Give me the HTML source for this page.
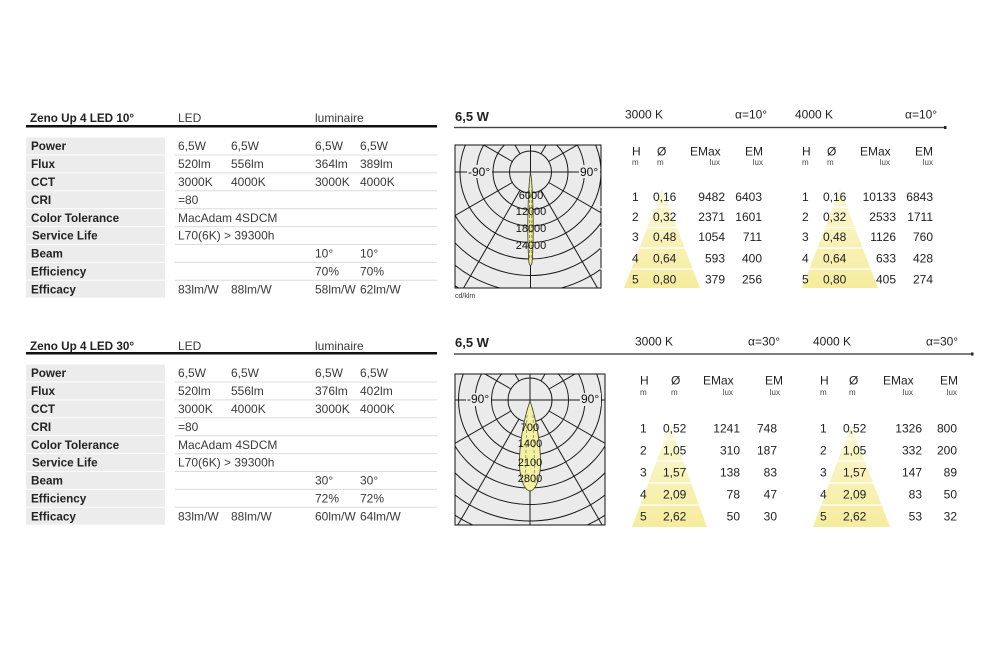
<!DOCTYPE html>
<html><head><meta charset="utf-8">
<style>
html,body{margin:0;padding:0;background:#fff;}
svg{display:block;}
text{font-family:"Liberation Sans",Arial,sans-serif;}
.lb{font-weight:bold;font-size:11.7px;fill:#222;}
.v{font-size:12px;fill:#3a3a3a;}
.r{font-size:12px;fill:#222;}
.s{font-size:8px;fill:#444;}
.pl{font-size:11px;fill:#111;}
</style></head><body>
<svg width="999" height="665" viewBox="0 0 999 665" xmlns="http://www.w3.org/2000/svg">
<defs>
<linearGradient id="yg" x1="0" y1="0" x2="0" y2="1">
<stop offset="0" stop-color="#fbf8d6"/><stop offset="1" stop-color="#f5ec9e"/>
</linearGradient>
<clipPath id="c1"><rect x="455" y="145" width="146" height="143"/></clipPath>
<clipPath id="c2"><rect x="455" y="374" width="150" height="151"/></clipPath>
</defs>
<rect width="999" height="665" fill="#fff"/>

<!-- ============ LEFT TABLE TOP ============ -->
<text x="30" y="122" class="lb">Zeno Up 4 LED 10°</text>
<text x="178" y="122" class="v">LED</text>
<text x="315" y="122" class="v">luminaire</text>
<rect x="26" y="125" width="411" height="2.5" fill="#111"/>
<g>
<rect x="26" y="137.5" width="139" height="17" fill="#ececec"/>
<rect x="26" y="155.4" width="139" height="17" fill="#ececec"/>
<rect x="26" y="173.3" width="139" height="17" fill="#ececec"/>
<rect x="26" y="191.2" width="139" height="17" fill="#ececec"/>
<rect x="26" y="209.1" width="139" height="17" fill="#ececec"/>
<rect x="26" y="227.0" width="139" height="17" fill="#ececec"/>
<rect x="26" y="244.9" width="139" height="17" fill="#ececec"/>
<rect x="26" y="262.8" width="139" height="17" fill="#ececec"/>
<rect x="26" y="280.7" width="139" height="17" fill="#ececec"/>
</g>
<g stroke="#dcdcdc" stroke-width="1">
<line x1="175" y1="155" x2="437" y2="155"/>
<line x1="175" y1="172.9" x2="437" y2="172.9"/>
<line x1="175" y1="190.8" x2="437" y2="190.8"/>
<line x1="175" y1="208.7" x2="437" y2="208.7"/>
<line x1="175" y1="226.6" x2="437" y2="226.6"/>
<line x1="175" y1="244.5" x2="437" y2="244.5"/>
<line x1="175" y1="262.4" x2="437" y2="262.4"/>
<line x1="175" y1="280.3" x2="437" y2="280.3"/>
</g>
<text x="31" y="150.2" class="lb">Power</text>
<text x="31" y="168.1" class="lb">Flux</text>
<text x="31" y="186.0" class="lb">CCT</text>
<text x="31" y="203.9" class="lb">CRI</text>
<text x="31" y="221.8" class="lb">Color Tolerance</text>
<text x="32" y="239.7" class="lb">Service Life</text>
<text x="31" y="257.6" class="lb">Beam</text>
<text x="31" y="275.5" class="lb">Efficiency</text>
<text x="31" y="293.4" class="lb">Efficacy</text>

<text x="178" y="150.2" class="v">6,5W</text><text x="231" y="150.2" class="v">6,5W</text><text x="315" y="150.2" class="v">6,5W</text><text x="360" y="150.2" class="v">6,5W</text>
<text x="178" y="168.1" class="v">520lm</text><text x="231" y="168.1" class="v">556lm</text><text x="315" y="168.1" class="v">364lm</text><text x="360" y="168.1" class="v">389lm</text>
<text x="178" y="186.0" class="v">3000K</text><text x="231" y="186.0" class="v">4000K</text><text x="315" y="186.0" class="v">3000K</text><text x="360" y="186.0" class="v">4000K</text>
<text x="178" y="203.9" class="v">=80</text>
<text x="178" y="221.8" class="v">MacAdam 4SDCM</text>
<text x="178" y="239.7" class="v">L70(6K) &gt; 39300h</text>
<text x="315" y="257.6" class="v">10°</text><text x="360" y="257.6" class="v">10°</text>
<text x="315" y="275.5" class="v">70%</text><text x="360" y="275.5" class="v">70%</text>
<text x="178" y="293.4" class="v">83lm/W</text><text x="231" y="293.4" class="v">88lm/W</text><text x="315" y="293.4" class="v">58lm/W</text><text x="360" y="293.4" class="v">62lm/W</text>

<!-- ============ LEFT TABLE BOTTOM ============ -->
<text x="30" y="350" class="lb">Zeno Up 4 LED 30°</text>
<text x="178" y="350" class="v">LED</text>
<text x="315" y="350" class="v">luminaire</text>
<rect x="26" y="352" width="411" height="2.5" fill="#111"/>
<g>
<rect x="26" y="364.5" width="139" height="17" fill="#ececec"/>
<rect x="26" y="382.4" width="139" height="17" fill="#ececec"/>
<rect x="26" y="400.3" width="139" height="17" fill="#ececec"/>
<rect x="26" y="418.2" width="139" height="17" fill="#ececec"/>
<rect x="26" y="436.1" width="139" height="17" fill="#ececec"/>
<rect x="26" y="454.0" width="139" height="17" fill="#ececec"/>
<rect x="26" y="471.9" width="139" height="17" fill="#ececec"/>
<rect x="26" y="489.8" width="139" height="17" fill="#ececec"/>
<rect x="26" y="507.7" width="139" height="17" fill="#ececec"/>
</g>
<g stroke="#dcdcdc" stroke-width="1">
<line x1="175" y1="382" x2="437" y2="382"/>
<line x1="175" y1="399.9" x2="437" y2="399.9"/>
<line x1="175" y1="417.8" x2="437" y2="417.8"/>
<line x1="175" y1="435.7" x2="437" y2="435.7"/>
<line x1="175" y1="453.6" x2="437" y2="453.6"/>
<line x1="175" y1="471.5" x2="437" y2="471.5"/>
<line x1="175" y1="489.4" x2="437" y2="489.4"/>
<line x1="175" y1="507.3" x2="437" y2="507.3"/>
</g>
<text x="31" y="377.2" class="lb">Power</text>
<text x="31" y="395.1" class="lb">Flux</text>
<text x="31" y="413.0" class="lb">CCT</text>
<text x="31" y="430.9" class="lb">CRI</text>
<text x="31" y="448.8" class="lb">Color Tolerance</text>
<text x="32" y="466.7" class="lb">Service Life</text>
<text x="31" y="484.6" class="lb">Beam</text>
<text x="31" y="502.5" class="lb">Efficiency</text>
<text x="31" y="520.4" class="lb">Efficacy</text>

<text x="178" y="377.2" class="v">6,5W</text><text x="231" y="377.2" class="v">6,5W</text><text x="315" y="377.2" class="v">6,5W</text><text x="360" y="377.2" class="v">6,5W</text>
<text x="178" y="395.1" class="v">520lm</text><text x="231" y="395.1" class="v">556lm</text><text x="315" y="395.1" class="v">376lm</text><text x="360" y="395.1" class="v">402lm</text>
<text x="178" y="413.0" class="v">3000K</text><text x="231" y="413.0" class="v">4000K</text><text x="315" y="413.0" class="v">3000K</text><text x="360" y="413.0" class="v">4000K</text>
<text x="178" y="430.9" class="v">=80</text>
<text x="178" y="448.8" class="v">MacAdam 4SDCM</text>
<text x="178" y="466.7" class="v">L70(6K) &gt; 39300h</text>
<text x="315" y="484.6" class="v">30°</text><text x="360" y="484.6" class="v">30°</text>
<text x="315" y="502.5" class="v">72%</text><text x="360" y="502.5" class="v">72%</text>
<text x="178" y="520.4" class="v">83lm/W</text><text x="231" y="520.4" class="v">88lm/W</text><text x="315" y="520.4" class="v">60lm/W</text><text x="360" y="520.4" class="v">64lm/W</text>

<!-- ============ RIGHT HEADERS ============ -->
<text x="455" y="121" font-size="13" font-weight="bold" fill="#222">6,5 W</text>
<text x="625" y="118.5" class="r">3000 K</text>
<text x="735" y="118.5" class="r">α=10°</text>
<text x="795" y="118.5" class="r">4000 K</text>
<text x="905" y="118.5" class="r">α=10°</text>
<rect x="454" y="126.8" width="491" height="1.4" fill="#444"/>
<rect x="944" y="126" width="2.5" height="3" fill="#222"/>

<text x="455" y="347" font-size="13" font-weight="bold" fill="#222">6,5 W</text>
<text x="635" y="345.5" class="r">3000 K</text>
<text x="748" y="345.5" class="r">α=30°</text>
<text x="813" y="345.5" class="r">4000 K</text>
<text x="926" y="345.5" class="r">α=30°</text>
<rect x="454" y="353.3" width="518" height="1.4" fill="#444"/>
<rect x="971" y="352.5" width="2.5" height="3" fill="#222"/>

<!-- ============ POLAR TOP ============ -->
<rect x="455" y="145" width="146" height="143" fill="#ebebeb"/>
<g clip-path="url(#c1)" stroke="#1a1a1a" stroke-width="1" fill="none">
<circle cx="530.5" cy="172" r="21"/>
<circle cx="530.5" cy="172" r="37.5"/>
<circle cx="530.5" cy="172" r="54"/>
<circle cx="530.5" cy="172" r="70.5"/>
<circle cx="530.5" cy="172" r="87"/>
<circle cx="530.5" cy="172" r="103.5"/>
<circle cx="530.5" cy="172" r="120"/>
<circle cx="530.5" cy="172" r="136.5"/>
<circle cx="530.5" cy="172" r="153"/>
<line x1="530.5" y1="140" x2="530.5" y2="290"/>
<line x1="450" y1="172" x2="605" y2="172"/>
<!-- radial lines, starting at r=21 -->
<line x1="520" y1="190.2" x2="430.5" y2="345.2"/>
<line x1="541" y1="190.2" x2="630.5" y2="345.2"/>
<line x1="512.3" y1="182.5" x2="357.3" y2="272"/>
<line x1="548.7" y1="182.5" x2="703.7" y2="272"/>
<line x1="512.3" y1="161.5" x2="357.3" y2="72"/>
<line x1="548.7" y1="161.5" x2="703.7" y2="72"/>
<line x1="520" y1="153.8" x2="430.5" y2="-1.2"/>
<line x1="541" y1="153.8" x2="630.5" y2="-1.2"/>
</g>
<rect x="455" y="145" width="146" height="143" fill="none" stroke="#111" stroke-width="1"/>
<path d="M530.5,172 C533.5,192 534,240 532,263 Q530.5,268 529,263 C527,240 527.5,192 530.5,172 Z" fill="#f1ee8a" stroke="#3a3a2a" stroke-width="0.8"/>
<line x1="529.3" y1="180" x2="529.3" y2="258" stroke="#555" stroke-width="0.6" stroke-dasharray="3,2"/>
<line x1="531.8" y1="180" x2="531.8" y2="258" stroke="#555" stroke-width="0.6" stroke-dasharray="3,2"/>
<rect x="467" y="165" width="25" height="13" fill="#ebebeb"/>
<rect x="579" y="165" width="21" height="13" fill="#ebebeb"/>
<text x="468" y="176" font-size="12" fill="#111">-90°</text>
<text x="580" y="176" font-size="12" fill="#111">90°</text>
<text x="531" y="199" text-anchor="middle" class="pl">6000</text>
<text x="531" y="215" text-anchor="middle" class="pl">12000</text>
<text x="531" y="232" text-anchor="middle" class="pl">18000</text>
<text x="531" y="249" text-anchor="middle" class="pl">24000</text>
<text x="455" y="298" font-family="Liberation Serif,serif" font-size="7" fill="#333">cd/klm</text>

<!-- ============ POLAR BOTTOM ============ -->
<rect x="455" y="374" width="150" height="151" fill="#ebebeb"/>
<g clip-path="url(#c2)" stroke="#1a1a1a" stroke-width="1" fill="none">
<circle cx="530" cy="400" r="22"/>
<circle cx="530" cy="400" r="38.5"/>
<circle cx="530" cy="400" r="55"/>
<circle cx="530" cy="400" r="71.5"/>
<circle cx="530" cy="400" r="88"/>
<circle cx="530" cy="400" r="104.5"/>
<circle cx="530" cy="400" r="121"/>
<circle cx="530" cy="400" r="137.5"/>
<circle cx="530" cy="400" r="154"/>
<line x1="530" y1="370" x2="530" y2="530"/>
<line x1="450" y1="400" x2="610" y2="400"/>
<line x1="519" y1="419" x2="430" y2="573.2"/>
<line x1="541" y1="419" x2="630" y2="573.2"/>
<line x1="511" y1="411" x2="356.8" y2="500"/>
<line x1="549" y1="411" x2="703.2" y2="500"/>
<line x1="511" y1="389" x2="356.8" y2="300"/>
<line x1="549" y1="389" x2="703.2" y2="300"/>
<line x1="519" y1="381" x2="430" y2="226.8"/>
<line x1="541" y1="381" x2="630" y2="226.8"/>
</g>
<rect x="455" y="374" width="150" height="151" fill="none" stroke="#111" stroke-width="1"/>
<path d="M530,401 C536,418 541,445 540.5,465 C540,482 534,491 530,491 C526,491 520,482 519.5,465 C519,445 524,418 530,401 Z" fill="#f3f0a0" stroke="#3a3a2a" stroke-width="0.8"/>
<line x1="527" y1="415" x2="525" y2="485" stroke="#666" stroke-width="0.6" stroke-dasharray="3,2"/>
<line x1="533" y1="415" x2="535" y2="485" stroke="#666" stroke-width="0.6" stroke-dasharray="3,2"/>
<rect x="466" y="393" width="25" height="13" fill="#ebebeb"/>
<rect x="580" y="393" width="21" height="13" fill="#ebebeb"/>
<text x="467" y="403" font-size="12" fill="#111">-90°</text>
<text x="581" y="403" font-size="12" fill="#111">90°</text>
<text x="530" y="431" text-anchor="middle" class="pl">700</text>
<text x="530" y="447" text-anchor="middle" class="pl">1400</text>
<text x="530" y="466" text-anchor="middle" class="pl">2100</text>
<text x="530" y="482" text-anchor="middle" class="pl">2800</text>

<!-- ============ TRIANGLES ============ -->
<polygon points="662,189 624,288 700,288" fill="url(#yg)"/>
<polygon points="840,189 802,288 878,288" fill="url(#yg)"/>
<polygon points="670,425 632,527 707,527" fill="url(#yg)"/>
<polygon points="851,425 813,527 890,527" fill="url(#yg)"/>
<g stroke="#fff" stroke-width="1.3">
<line x1="600" y1="207" x2="720" y2="207"/><line x1="600" y1="227.5" x2="720" y2="227.5"/><line x1="600" y1="248" x2="720" y2="248"/><line x1="600" y1="269" x2="720" y2="269"/>
<line x1="780" y1="207" x2="898" y2="207"/><line x1="780" y1="227.5" x2="898" y2="227.5"/><line x1="780" y1="248" x2="898" y2="248"/><line x1="780" y1="269" x2="898" y2="269"/>
<line x1="610" y1="439" x2="725" y2="439"/><line x1="610" y1="461" x2="725" y2="461"/><line x1="610" y1="483" x2="725" y2="483"/><line x1="610" y1="505" x2="725" y2="505"/>
<line x1="795" y1="439" x2="905" y2="439"/><line x1="795" y1="461" x2="905" y2="461"/><line x1="795" y1="483" x2="905" y2="483"/><line x1="795" y1="505" x2="905" y2="505"/>
</g>

<!-- ============ RIGHT TABLE TOP ============ -->
<text x="632" y="155.5" class="r">H</text><text x="632" y="165" class="s">m</text>
<text x="657" y="155.5" class="r">Ø</text><text x="657" y="165" class="s">m</text>
<text x="690" y="155.5" class="r">EMax</text><text x="720" y="165" class="s" text-anchor="end">lux</text>
<text x="745" y="155.5" class="r">EM</text><text x="763" y="165" class="s" text-anchor="end">lux</text>
<text x="802" y="155.5" class="r">H</text><text x="802" y="165" class="s">m</text>
<text x="827" y="155.5" class="r">Ø</text><text x="827" y="165" class="s">m</text>
<text x="860" y="155.5" class="r">EMax</text><text x="890" y="165" class="s" text-anchor="end">lux</text>
<text x="915" y="155.5" class="r">EM</text><text x="933" y="165" class="s" text-anchor="end">lux</text>

<g class="r">
<text x="632" y="201" class="r">1</text><text x="653" y="201" class="r">0,16</text><text x="725" y="201" class="r" text-anchor="end">9482</text><text x="762" y="201" class="r" text-anchor="end">6403</text>
<text x="632" y="221" class="r">2</text><text x="653" y="221" class="r">0,32</text><text x="725" y="221" class="r" text-anchor="end">2371</text><text x="762" y="221" class="r" text-anchor="end">1601</text>
<text x="632" y="241" class="r">3</text><text x="653" y="241" class="r">0,48</text><text x="725" y="241" class="r" text-anchor="end">1054</text><text x="762" y="241" class="r" text-anchor="end">711</text>
<text x="632" y="262.5" class="r">4</text><text x="653" y="262.5" class="r">0,64</text><text x="725" y="262.5" class="r" text-anchor="end">593</text><text x="762" y="262.5" class="r" text-anchor="end">400</text>
<text x="632" y="283.5" class="r">5</text><text x="653" y="283.5" class="r">0,80</text><text x="725" y="283.5" class="r" text-anchor="end">379</text><text x="762" y="283.5" class="r" text-anchor="end">256</text>

<text x="802" y="201" class="r">1</text><text x="823" y="201" class="r">0,16</text><text x="896" y="201" class="r" text-anchor="end">10133</text><text x="933" y="201" class="r" text-anchor="end">6843</text>
<text x="802" y="221" class="r">2</text><text x="823" y="221" class="r">0,32</text><text x="896" y="221" class="r" text-anchor="end">2533</text><text x="933" y="221" class="r" text-anchor="end">1711</text>
<text x="802" y="241" class="r">3</text><text x="823" y="241" class="r">0,48</text><text x="896" y="241" class="r" text-anchor="end">1126</text><text x="933" y="241" class="r" text-anchor="end">760</text>
<text x="802" y="262.5" class="r">4</text><text x="823" y="262.5" class="r">0,64</text><text x="896" y="262.5" class="r" text-anchor="end">633</text><text x="933" y="262.5" class="r" text-anchor="end">428</text>
<text x="802" y="283.5" class="r">5</text><text x="823" y="283.5" class="r">0,80</text><text x="896" y="283.5" class="r" text-anchor="end">405</text><text x="933" y="283.5" class="r" text-anchor="end">274</text>
</g>

<!-- ============ RIGHT TABLE BOTTOM ============ -->
<text x="640" y="384.5" class="r">H</text><text x="640" y="395" class="s">m</text>
<text x="671" y="384.5" class="r">Ø</text><text x="671" y="395" class="s">m</text>
<text x="703" y="384.5" class="r">EMax</text><text x="733" y="395" class="s" text-anchor="end">lux</text>
<text x="765" y="384.5" class="r">EM</text><text x="780" y="395" class="s" text-anchor="end">lux</text>
<text x="820" y="384.5" class="r">H</text><text x="820" y="395" class="s">m</text>
<text x="849" y="384.5" class="r">Ø</text><text x="849" y="395" class="s">m</text>
<text x="883" y="384.5" class="r">EMax</text><text x="913" y="395" class="s" text-anchor="end">lux</text>
<text x="940" y="384.5" class="r">EM</text><text x="957" y="395" class="s" text-anchor="end">lux</text>

<text x="640" y="432.3" class="r">1</text><text x="663" y="432.3" class="r">0,52</text><text x="740" y="432.3" class="r" text-anchor="end">1241</text><text x="777" y="432.3" class="r" text-anchor="end">748</text>
<text x="640" y="454.3" class="r">2</text><text x="663" y="454.3" class="r">1,05</text><text x="740" y="454.3" class="r" text-anchor="end">310</text><text x="777" y="454.3" class="r" text-anchor="end">187</text>
<text x="640" y="476.3" class="r">3</text><text x="663" y="476.3" class="r">1,57</text><text x="740" y="476.3" class="r" text-anchor="end">138</text><text x="777" y="476.3" class="r" text-anchor="end">83</text>
<text x="640" y="498.3" class="r">4</text><text x="663" y="498.3" class="r">2,09</text><text x="740" y="498.3" class="r" text-anchor="end">78</text><text x="777" y="498.3" class="r" text-anchor="end">47</text>
<text x="640" y="520.3" class="r">5</text><text x="663" y="520.3" class="r">2,62</text><text x="740" y="520.3" class="r" text-anchor="end">50</text><text x="777" y="520.3" class="r" text-anchor="end">30</text>

<text x="820" y="432.3" class="r">1</text><text x="843" y="432.3" class="r">0,52</text><text x="922" y="432.3" class="r" text-anchor="end">1326</text><text x="957" y="432.3" class="r" text-anchor="end">800</text>
<text x="820" y="454.3" class="r">2</text><text x="843" y="454.3" class="r">1,05</text><text x="922" y="454.3" class="r" text-anchor="end">332</text><text x="957" y="454.3" class="r" text-anchor="end">200</text>
<text x="820" y="476.3" class="r">3</text><text x="843" y="476.3" class="r">1,57</text><text x="922" y="476.3" class="r" text-anchor="end">147</text><text x="957" y="476.3" class="r" text-anchor="end">89</text>
<text x="820" y="498.3" class="r">4</text><text x="843" y="498.3" class="r">2,09</text><text x="922" y="498.3" class="r" text-anchor="end">83</text><text x="957" y="498.3" class="r" text-anchor="end">50</text>
<text x="820" y="520.3" class="r">5</text><text x="843" y="520.3" class="r">2,62</text><text x="922" y="520.3" class="r" text-anchor="end">53</text><text x="957" y="520.3" class="r" text-anchor="end">32</text>
</svg>
</body></html>
